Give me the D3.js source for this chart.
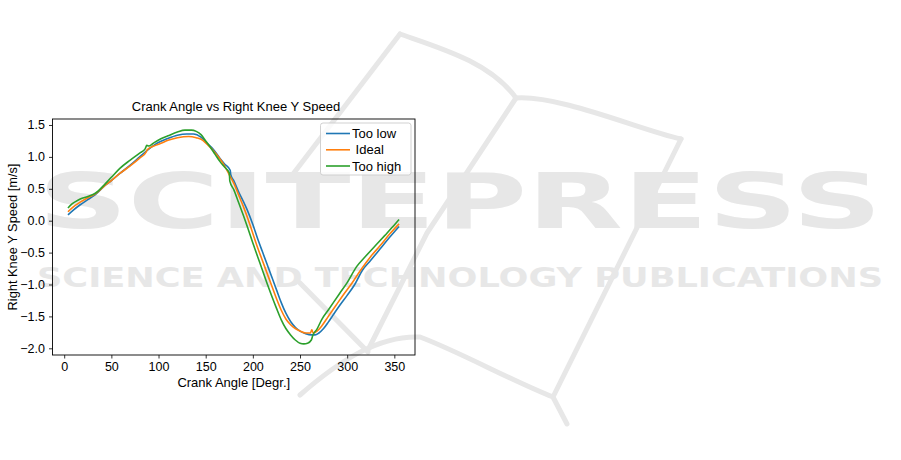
<!DOCTYPE html>
<html>
<head>
<meta charset="utf-8">
<script src="https://cdn.jsdelivr.net/npm/d3@7"></script>
<style>
  html, body { margin: 0; padding: 0; background: #ffffff; }
  svg { display: block; }
</style>
</head>
<body>
<script>
// ---------------- data ----------------
const title = "Crank Angle vs Right Knee Y Speed";
const xLabel = "Crank Angle [Degr.]";
const yLabel = "Right Knee Y Speed [m/s]";
const seriesNames = ["Too low", " Ideal", "Too high"];
const seriesColors = ["#1f77b4", "#ff7f0e", "#2ca02c"];
const xTicks = [0, 50, 100, 150, 200, 250, 300, 350];
const yTicks = [-2.0, -1.5, -1.0, -0.5, 0.0, 0.5, 1.0, 1.5];

const lowAngle = [4, 10, 17, 25, 33, 43, 50, 59, 70, 80, 87, 95, 102, 110, 120, 130, 137, 145, 151, 158, 165, 170, 176, 176.6, 180, 185, 190, 194, 200, 205, 210, 215, 220, 225, 230, 235, 240, 245, 250, 256, 262, 266, 270, 275, 280, 285, 292, 300, 308, 316, 325, 335, 345, 355];
const lowSpeed = [0.09, 0.17, 0.25, 0.33, 0.41, 0.55, 0.63, 0.74, 0.87, 1.00, 1.09, 1.18, 1.24, 1.29, 1.34, 1.36, 1.36, 1.31, 1.22, 1.12, 0.98, 0.89, 0.79, 0.72, 0.62, 0.45, 0.30, 0.17, -0.06, -0.28, -0.48, -0.68, -0.88, -1.08, -1.28, -1.45, -1.58, -1.67, -1.73, -1.77, -1.79, -1.79, -1.76, -1.69, -1.59, -1.48, -1.33, -1.17, -1.00, -0.78, -0.62, -0.44, -0.26, -0.09];

const idealAngle = [4, 10, 17, 25, 33, 43, 50, 59, 70, 80, 87, 88, 95, 102, 110, 120, 132, 140, 147, 152, 158, 165, 170, 175, 180, 185, 190, 195, 200, 205, 210, 215, 220, 225, 230, 235, 240, 245, 250, 256, 261, 262.5, 264, 268, 273, 280, 288, 296, 305, 314, 325, 335, 345, 355];
const idealSpeed = [0.14, 0.22, 0.29, 0.36, 0.42, 0.55, 0.63, 0.74, 0.86, 0.98, 1.08, 1.11, 1.17, 1.21, 1.26, 1.30, 1.32, 1.30, 1.26, 1.19, 1.10, 0.97, 0.86, 0.72, 0.58, 0.40, 0.22, 0.02, -0.20, -0.42, -0.62, -0.82, -1.02, -1.22, -1.40, -1.54, -1.63, -1.69, -1.73, -1.76, -1.76, -1.71, -1.76, -1.73, -1.65, -1.50, -1.33, -1.16, -0.98, -0.78, -0.56, -0.39, -0.21, -0.05];

const highAngle = [4, 8, 12, 17, 25, 33, 43, 50, 59, 70, 80, 86, 87.5, 90, 95, 102, 110, 120, 128, 135, 140, 145, 150, 155, 160, 165, 170, 175, 175.6, 180, 185, 190, 195, 200, 205, 210, 215, 220, 225, 230, 235, 240, 245, 250, 254, 258, 262, 263.5, 268, 273, 280, 292, 300, 310, 320, 330, 340, 348, 355];
const highSpeed = [0.20, 0.26, 0.30, 0.34, 0.38, 0.43, 0.57, 0.68, 0.82, 0.95, 1.06, 1.13, 1.18, 1.17, 1.22, 1.28, 1.33, 1.39, 1.42, 1.42, 1.40, 1.35, 1.25, 1.15, 1.04, 0.93, 0.84, 0.75, 0.62, 0.48, 0.28, 0.08, -0.13, -0.35, -0.56, -0.77, -0.98, -1.18, -1.37, -1.55, -1.69, -1.79, -1.87, -1.92, -1.93, -1.92, -1.87, -1.80, -1.70, -1.55, -1.40, -1.14, -0.97, -0.72, -0.55, -0.39, -0.23, -0.10, 0.02];

const watermarkMain = "SCITEPRESS";
const watermarkSub = "SCIENCE AND TECHNOLOGY PUBLICATIONS";

// ---------------- drawing ----------------
const W = 901, H = 460;
const svg = d3.select("body").append("svg").attr("width", W).attr("height", H);
const font = "'Liberation Sans', Arial, Helvetica, sans-serif";

// watermark (background)
const wm = svg.append("g").attr("fill", "none").attr("stroke", "#e7e7e7")
  .attr("stroke-width", 5).attr("stroke-linecap", "round").attr("stroke-linejoin", "round");
[
  "M400,34 L290,178",
  "M400,34 C440,48 490,62 516,98",
  "M516,98 C560,95 640,130 681,139",
  "M681,139 L553,397 L567,424",
  "M300,395 C340,360 380,335 420,337 C460,352 510,380 553,397",
  "M516,98 L427,233 L368,350",
  "M300,283 L368,352"
].forEach(d => wm.append("path").attr("d", d));

svg.append("text").attr("x", 38).attr("y", 228)
  .attr("font-family", "'DejaVu Sans', sans-serif").attr("font-weight", "bold")
  .attr("font-size", 77).attr("fill", "#e7e7e7")
  .attr("textLength", 844).attr("lengthAdjust", "spacingAndGlyphs")
  .text(watermarkMain);
svg.append("text").attr("x", 37).attr("y", 287)
  .attr("font-family", "'DejaVu Sans', sans-serif").attr("font-weight", "bold")
  .attr("font-size", 27).attr("fill", "#e7e7e7")
  .attr("textLength", 846).attr("lengthAdjust", "spacingAndGlyphs")
  .text(watermarkSub);

// scales
const pLeft = 52.5, pRight = 415, pTop = 119, pBottom = 355;
const x = d3.scaleLinear().domain([-12.4, 371.9]).range([pLeft, pRight]);
const y = d3.scaleLinear().domain([-2.105, 1.594]).range([pBottom, pTop]);

// axes
const fmt = v => d3.format(".1f")(v).replace("-", "\u2212");
const xAxis = svg.append("g").attr("transform", `translate(0,${pBottom})`)
  .call(d3.axisBottom(x).tickValues(xTicks).tickSize(3.5).tickPadding(4).tickFormat(d3.format("d")));
const yAxis = svg.append("g").attr("transform", `translate(${pLeft},0)`)
  .call(d3.axisLeft(y).tickValues(yTicks).tickSize(3.5).tickPadding(4).tickFormat(fmt));
[xAxis, yAxis].forEach(a => {
  a.select(".domain").remove();
  a.selectAll("line").attr("stroke", "#000").attr("stroke-width", 0.8);
  a.selectAll("text").attr("font-family", font).attr("font-size", 12.5).attr("fill", "#000");
});

// series
const lineGen = d3.line().x(d => x(d[0])).y(d => y(d[1])).curve(d3.curveMonotoneX);
const series = [
  [lowAngle, lowSpeed],
  [idealAngle, idealSpeed],
  [highAngle, highSpeed]
];
const plot = svg.append("g");
series.forEach((s, i) => {
  const pts = s[0].map((a, j) => [a, s[1][j]]);
  plot.append("path").datum(pts).attr("d", lineGen)
    .attr("fill", "none").attr("stroke", seriesColors[i]).attr("stroke-width", 1.6)
    .attr("stroke-linejoin", "round");
});

// frame
svg.append("rect").attr("x", pLeft).attr("y", pTop).attr("width", pRight - pLeft).attr("height", pBottom - pTop)
  .attr("fill", "none").attr("stroke", "#000").attr("stroke-width", 0.9);

// title and labels
svg.append("text").attr("x", 236).attr("y", 111).attr("text-anchor", "middle")
  .attr("font-family", font).attr("font-size", 13).attr("fill", "#000").text(title);
svg.append("text").attr("x", (pLeft + pRight) / 2).attr("y", 387).attr("text-anchor", "middle")
  .attr("font-family", font).attr("font-size", 13).attr("fill", "#000").text(xLabel);
svg.append("text").attr("transform", `translate(17,${(pTop + pBottom) / 2}) rotate(-90)`).attr("text-anchor", "middle")
  .attr("font-family", font).attr("font-size", 12.8).attr("fill", "#000").text(yLabel);

// legend
const lg = svg.append("g");
lg.append("rect").attr("x", 320.5).attr("y", 123).attr("width", 90.5).attr("height", 52)
  .attr("rx", 2.5).attr("fill", "rgba(255,255,255,0.8)").attr("stroke", "#cccccc").attr("stroke-width", 0.9);
const rowY = [133.5, 149.8, 166];
seriesNames.forEach((n, i) => {
  lg.append("line").attr("x1", 326).attr("x2", 350).attr("y1", rowY[i]).attr("y2", rowY[i])
    .attr("stroke", seriesColors[i]).attr("stroke-width", 1.6);
  lg.append("text").attr("x", 352).attr("y", rowY[i]).attr("dy", "0.35em")
    .attr("font-family", font).attr("font-size", 13).attr("fill", "#000")
    .style("white-space", "pre").text(n);
});
</script>
</body>
</html>
